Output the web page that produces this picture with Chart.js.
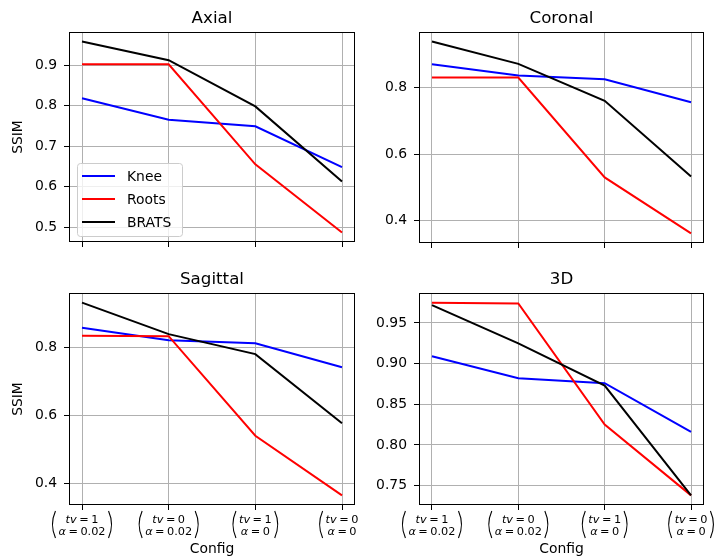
<!DOCTYPE html>
<html>
<head>
<meta charset="utf-8">
<script src="https://cdn.jsdelivr.net/npm/chart.js@4.4.1/dist/chart.umd.min.js"></script>
<style>
    body { margin: 0; background: #fff; }
    #fig { position: relative; width: 715px; height: 557px; }
    .panel { position: absolute; }
</style>
</head>
<body>
<div id="fig">
    <div class="panel" style="left:0;top:0;width:360px;height:260px"><canvas id="axial"></canvas></div>
    <div class="panel" style="left:360px;top:0;width:355px;height:260px"><canvas id="coronal"></canvas></div>
    <div class="panel" style="left:0;top:260px;width:360px;height:297px"><canvas id="sagittal"></canvas></div>
    <div class="panel" style="left:360px;top:260px;width:355px;height:297px"><canvas id="threeD"></canvas></div>
</div>
<script>
    // x categories (configs), shown as stacked (tv, alpha) pairs
    const configTv = ["1", "0", "1", "0"];
    const configAlpha = ["0.02", "0.02", "0", "0"];
    const seriesNames = ["Knee", "Roots", "BRATS"];
    const seriesColors = ["#0000ff", "#ff0000", "#000000"];

    // Axial
    const axialKnee = [0.818, 0.765, 0.749, 0.648];
    const axialRoots = [0.902, 0.902, 0.655, 0.487];
    const axialBrats = [0.958, 0.912, 0.798, 0.613];
    const axialTicks = [0.5, 0.6, 0.7, 0.8, 0.9];

    // Coronal
    const coronalKnee = [0.870, 0.836, 0.825, 0.756];
    const coronalRoots = [0.830, 0.830, 0.530, 0.362];
    const coronalBrats = [0.938, 0.871, 0.760, 0.533];
    const coronalTicks = [0.4, 0.6, 0.8];

    // Sagittal
    const sagittalKnee = [0.859, 0.822, 0.813, 0.742];
    const sagittalRoots = [0.835, 0.834, 0.540, 0.364];
    const sagittalBrats = [0.933, 0.840, 0.781, 0.577];
    const sagittalTicks = [0.4, 0.6, 0.8];

    // 3D
    const threeDKnee = [0.909, 0.882, 0.876, 0.816];
    const threeDRoots = [0.975, 0.974, 0.825, 0.738];
    const threeDBrats = [0.972, 0.925, 0.873, 0.738];
    const threeDTicks = [0.75, 0.80, 0.85, 0.90, 0.95];

    Chart.defaults.font.family = "'DejaVu Sans', sans-serif";
    Chart.defaults.color = "#000";

    const FONT = "'DejaVu Sans', sans-serif";

    // frame + title around the axes box
    const axesPlugin = {
        id: "axesFrame",
        afterDatasetsDraw(chart, args, opts) {
            const a = chart.chartArea;
            const ctx = chart.ctx;
            ctx.save();
            ctx.strokeStyle = "#000";
            ctx.lineWidth = 1;
            const l = Math.round(a.left) + 0.5, t = Math.round(a.top) + 0.5;
            const r = Math.round(a.right) - 0.5, b = Math.round(a.bottom) - 0.5;
            ctx.strokeRect(l, t, r - l, b - t);
            ctx.fillStyle = "#000";
            ctx.font = "16.7px " + FONT;
            ctx.textAlign = "center";
            ctx.textBaseline = "alphabetic";
            ctx.fillText(opts.title, (a.left + a.right) / 2, a.top - 9);
            ctx.restore();
        }
    };

    // legend box in lower-left corner of the axes
    const legendPlugin = {
        id: "innerLegend",
        afterDraw(chart, args, opts) {
            if (!opts.show) return;
            const a = chart.chartArea;
            const ctx = chart.ctx;
            const w = 105, h = 73;
            const x = a.left + 8, y = a.bottom - 6 - h;
            ctx.save();
            ctx.beginPath();
            ctx.roundRect(x + 0.5, y + 0.5, w, h, 3);
            ctx.fillStyle = "rgba(255,255,255,0.8)";
            ctx.fill();
            ctx.strokeStyle = "#cccccc";
            ctx.lineWidth = 1;
            ctx.stroke();
            ctx.font = "13.9px " + FONT;
            ctx.textBaseline = "middle";
            ctx.textAlign = "left";
            seriesNames.forEach((name, i) => {
                const cy = y + 13 + i * 23;
                ctx.strokeStyle = seriesColors[i];
                ctx.lineWidth = 2;
                ctx.beginPath();
                ctx.moveTo(x + 5, cy);
                ctx.lineTo(x + 38, cy);
                ctx.stroke();
                ctx.fillStyle = "#000";
                ctx.fillText(name, x + 50, cy + 1);
            });
            ctx.restore();
        }
    };

    // stacked (tv, alpha) tick labels + "Config" axis label
    const configLabelPlugin = {
        id: "configLabels",
        afterDraw(chart, args, opts) {
            if (!opts.show) return;
            const a = chart.chartArea;
            const xs = chart.scales.x;
            const ctx = chart.ctx;
            const size = 11.3;
            const italic = "italic " + size + "px " + FONT;
            const normal = size + "px " + FONT;
            const gap = 2.5;
            ctx.save();
            ctx.fillStyle = "#000";
            ctx.strokeStyle = "#000";
            ctx.textBaseline = "alphabetic";
            ctx.textAlign = "left";
            const drawLine = (parts, cx, by) => {
                let total = 0;
                parts.forEach(p => { ctx.font = p.i ? italic : normal; total += ctx.measureText(p.t).width + (p.g || 0); });
                let px = cx - total / 2;
                parts.forEach(p => {
                    ctx.font = p.i ? italic : normal;
                    ctx.fillText(p.t, px, by);
                    px += ctx.measureText(p.t).width + (p.g || 0);
                });
                return total;
            };
            configTv.forEach((tv, i) => {
                const cx = xs.getPixelForValue(i);
                const w1 = drawLine([{ t: "tv", i: true, g: gap }, { t: "=", g: gap }, { t: tv }], cx, a.bottom + 18);
                const w2 = drawLine([{ t: "α", i: true, g: gap }, { t: "=", g: gap }, { t: configAlpha[i] }], cx, a.bottom + 30);
                const half = Math.max(w1, w2) / 2;
                const top = a.bottom + 6, bot = a.bottom + 33, mid = (top + bot) / 2;
                ctx.lineWidth = 1.1;
                ctx.beginPath();
                ctx.moveTo(cx - half - 3, top);
                ctx.quadraticCurveTo(cx - half - 9, mid, cx - half - 3, bot);
                ctx.stroke();
                ctx.beginPath();
                ctx.moveTo(cx + half + 3, top);
                ctx.quadraticCurveTo(cx + half + 9, mid, cx + half + 3, bot);
                ctx.stroke();
            });
            ctx.font = "13.9px " + FONT;
            ctx.textAlign = "center";
            ctx.fillText("Config", (a.left + a.right) / 2, a.bottom + 48);
            ctx.restore();
        }
    };

    function makeChart(id, p) {
        const all = [].concat(...p.series);
        const lo = Math.min(...all), hi = Math.max(...all);
        const m = (hi - lo) * 0.05;
        const n = configTv.length;
        const datasets = p.series.map((vals, k) => ({
            label: seriesNames[k],
            data: vals.map((v, i) => ({ x: i, y: v })),
            borderColor: seriesColors[k],
            borderWidth: 2,
            pointRadius: 0,
            fill: false,
            tension: 0,
            order: p.series.length - k,
        }));
        return new Chart(document.getElementById(id), {
            type: "line",
            data: { datasets: datasets },
            options: {
                animation: false,
                responsive: true,
                maintainAspectRatio: false,
                layout: { padding: { top: p.padTop, right: p.padRight, left: 0, bottom: 0 } },
                plugins: {
                    legend: { display: false },
                    tooltip: { enabled: false },
                    axesFrame: { title: p.title },
                    innerLegend: { show: !!p.legend },
                    configLabels: { show: !!p.xLabels },
                },
                scales: {
                    x: {
                        type: "linear",
                        min: -0.15 * (n - 1) / 3,
                        max: (n - 1) + 0.15 * (n - 1) / 3,
                        afterBuildTicks: s => { s.ticks = configTv.map((_, i) => ({ value: i })); },
                        afterFit: s => { s.height = p.xHeight; },
                        ticks: { display: false },
                        border: { display: false },
                        grid: { color: "#b0b0b0", lineWidth: 1, tickColor: "#000", tickLength: 5, tickWidth: 1 },
                    },
                    y: {
                        type: "linear",
                        min: lo - m,
                        max: hi + m,
                        afterBuildTicks: s => { s.ticks = p.ticks.map(v => ({ value: v })); },
                        afterFit: s => { s.width = p.yWidth; },
                        ticks: {
                            padding: 7,
                            font: { size: 13.9 },
                            color: "#000",
                            callback: v => Number(v).toFixed(p.decimals),
                        },
                        border: { display: false },
                        grid: { color: "#b0b0b0", lineWidth: 1, tickColor: "#000", tickLength: 5, tickWidth: 1 },
                        title: {
                            display: !!p.yLabel,
                            text: "SSIM",
                            font: { size: 13.9 },
                            color: "#000",
                            padding: { top: 10, bottom: 0 },
                        },
                    },
                },
            },
            plugins: [axesPlugin, legendPlugin, configLabelPlugin],
        });
    }

    makeChart("axial", {
        title: "Axial", series: [axialKnee, axialRoots, axialBrats], ticks: axialTicks, decimals: 1,
        yLabel: true, legend: true, xLabels: false, padTop: 32, padRight: 5, yWidth: 69, xHeight: 18,
    });
    makeChart("coronal", {
        title: "Coronal", series: [coronalKnee, coronalRoots, coronalBrats], ticks: coronalTicks, decimals: 1,
        yLabel: false, legend: false, xLabels: false, padTop: 32, padRight: 11, yWidth: 59, xHeight: 17,
    });
    makeChart("sagittal", {
        title: "Sagittal", series: [sagittalKnee, sagittalRoots, sagittalBrats], ticks: sagittalTicks, decimals: 1,
        yLabel: true, legend: false, xLabels: true, padTop: 33, padRight: 5, yWidth: 69, xHeight: 52,
    });
    makeChart("threeD", {
        title: "3D", series: [threeDKnee, threeDRoots, threeDBrats], ticks: threeDTicks, decimals: 2,
        yLabel: false, legend: false, xLabels: true, padTop: 33, padRight: 11, yWidth: 59, xHeight: 52,
    });
</script>
</body>
</html>
